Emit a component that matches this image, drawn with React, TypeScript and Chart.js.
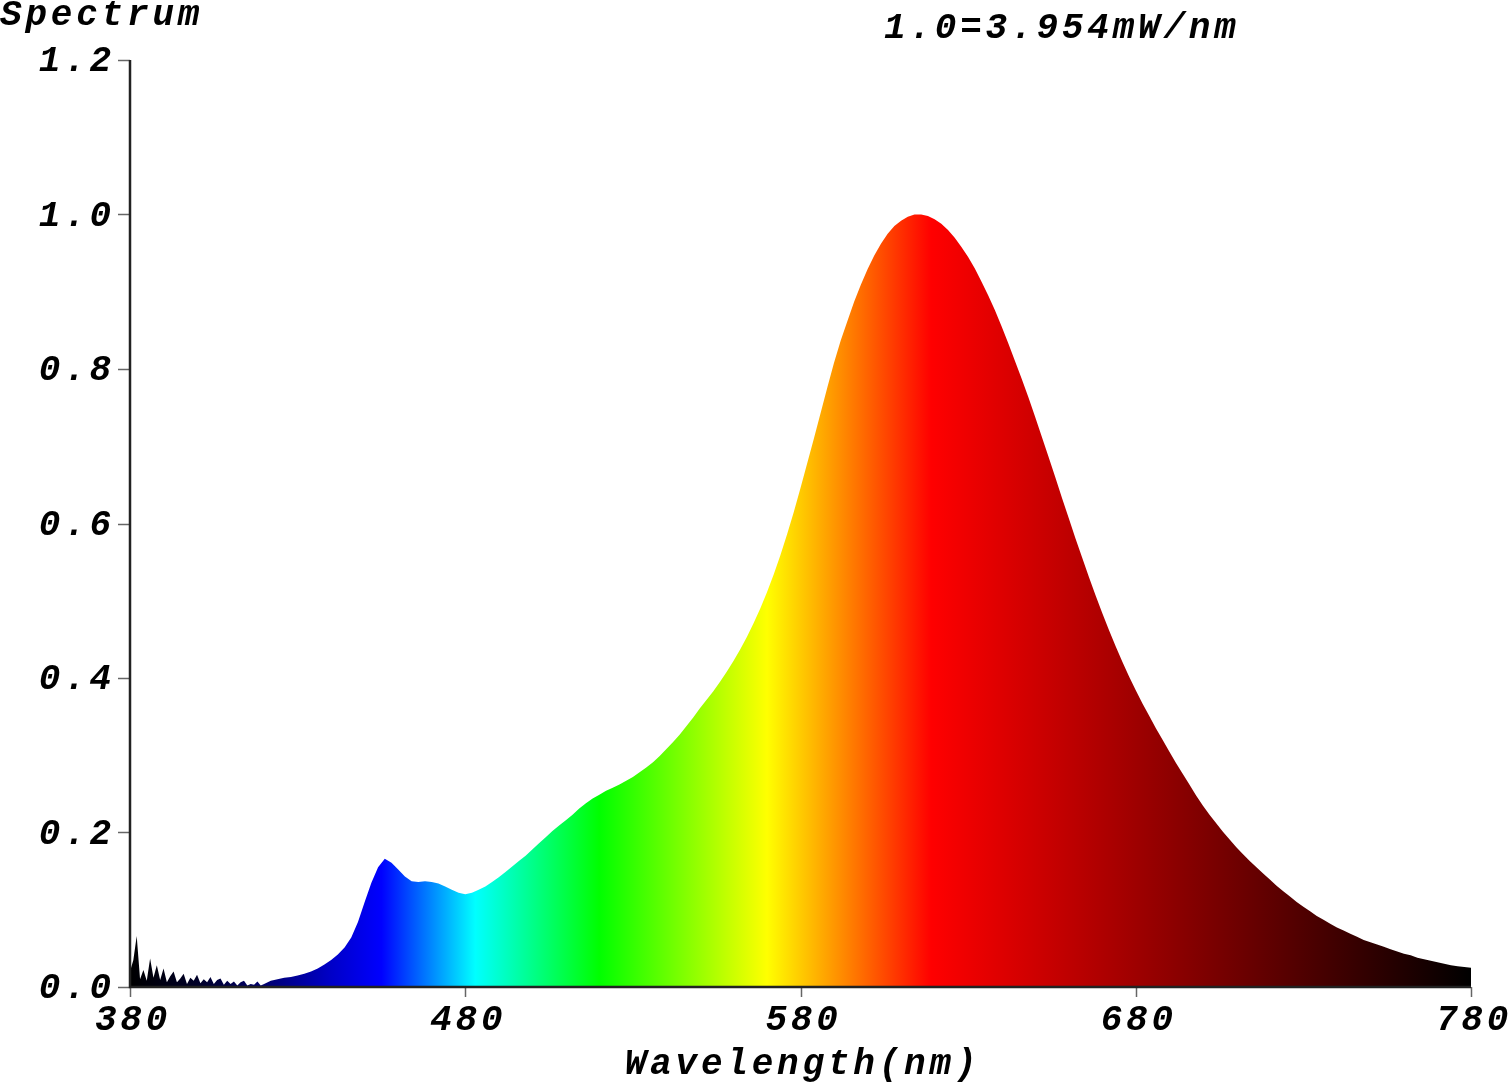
import React, { useEffect, useRef } from "react";
import { Chart, registerables } from "chart.js";

Chart.register(...registerables);

// Wavelength (nm)
const wavelengths = [
  380, 381, 382, 383, 384, 385, 386, 387, 388, 389, 390, 391, 392, 393, 394, 395, 396, 397, 398, 399,
  400, 401, 402, 403, 404, 405, 406, 407, 408, 409, 410, 411, 412, 413, 414, 415, 416, 417, 418, 419, 420,
  422, 424, 426, 428, 430, 432, 434, 436, 438, 440, 442, 444, 446, 448, 450, 452, 454, 456, 458, 460,
  462, 464, 466, 468, 470, 472, 474, 476, 478, 480, 482, 484, 486, 488, 490, 492, 494, 496, 498, 500,
  502, 504, 506, 508, 510, 512, 514, 516, 518, 520, 522, 524, 526, 528, 530, 532, 534, 536, 538, 540,
  542, 544, 546, 548, 550, 552, 554, 556, 558, 560, 562, 564, 566, 568, 570, 572, 574, 576, 578, 580,
  582, 584, 586, 588, 590, 592, 594, 596, 598, 600, 602, 604, 606, 608, 610, 612, 614, 616, 618, 620,
  622, 624, 626, 628, 630, 632, 634, 636, 638, 640, 642, 644, 646, 648, 650, 652, 654, 656, 658, 660,
  662, 664, 666, 668, 670, 672, 674, 676, 678, 680, 682, 684, 686, 688, 690, 692, 694, 696, 698, 700,
  702, 704, 706, 708, 710, 712, 714, 716, 718, 720, 722, 724, 726, 728, 730, 732, 734, 736, 738, 740,
  742, 744, 746, 748, 750, 752, 754, 756, 758, 760, 762, 764, 766, 768, 770, 772, 774, 776, 778, 780,
];

// Relative spectral power (1.0 = 3.954 mW/nm)
const intensities = [
  0.020, 0.035, 0.066, 0.010, 0.022, 0.008, 0.037, 0.012, 0.028, 0.009, 0.024, 0.006, 0.014, 0.020, 0.006, 0.011, 0.017, 0.004, 0.012, 0.008,
  0.016, 0.005, 0.010, 0.006, 0.013, 0.004, 0.009, 0.011, 0.003, 0.008, 0.004, 0.007, 0.002, 0.006, 0.008, 0.002, 0.004, 0.003, 0.007, 0.002, 0.004,
  0.008, 0.010, 0.012, 0.013, 0.015, 0.017, 0.020, 0.024, 0.029, 0.035, 0.042, 0.051, 0.064, 0.084, 0.110, 0.135, 0.155, 0.166, 0.161, 0.152,
  0.143, 0.137, 0.136, 0.137, 0.136, 0.134, 0.130, 0.126, 0.122, 0.120, 0.122, 0.126, 0.130, 0.136, 0.142, 0.149, 0.156, 0.163, 0.170, 0.178,
  0.186, 0.194, 0.202, 0.209, 0.216, 0.223, 0.231, 0.238, 0.244, 0.249, 0.254, 0.258, 0.262, 0.267, 0.272, 0.278, 0.284, 0.291, 0.299, 0.308,
  0.317, 0.327, 0.338, 0.349, 0.361, 0.372, 0.383, 0.395, 0.408, 0.422, 0.437, 0.453, 0.471, 0.490, 0.511, 0.534, 0.559, 0.586, 0.615, 0.646,
  0.678, 0.710, 0.743, 0.776, 0.808, 0.837, 0.862, 0.887, 0.909, 0.929, 0.947, 0.962, 0.975, 0.985, 0.992, 0.997, 1.000, 1.000, 0.998, 0.994,
  0.988, 0.980, 0.970, 0.958, 0.945, 0.930, 0.913, 0.895, 0.876, 0.855, 0.833, 0.810, 0.787, 0.763, 0.738, 0.712, 0.686, 0.660, 0.633, 0.607,
  0.581, 0.556, 0.531, 0.507, 0.484, 0.462, 0.441, 0.421, 0.402, 0.384, 0.367, 0.351, 0.335, 0.320, 0.305, 0.290, 0.276, 0.262, 0.248, 0.235,
  0.223, 0.212, 0.201, 0.191, 0.181, 0.172, 0.163, 0.155, 0.147, 0.139, 0.131, 0.124, 0.117, 0.110, 0.104, 0.098, 0.092, 0.087, 0.082, 0.077,
  0.073, 0.069, 0.065, 0.061, 0.058, 0.055, 0.052, 0.049, 0.046, 0.043, 0.041, 0.038, 0.036, 0.034, 0.032, 0.030, 0.028, 0.027, 0.026, 0.025,
];

const xTicks = [380, 480, 580, 680, 780];
const xTickLabels = ["380", "480", "580", "680", "780"];
const yTicks = [0, 0.2, 0.4, 0.6, 0.8, 1.0, 1.2];
const yTickLabels = ["0.0", "0.2", "0.4", "0.6", "0.8", "1.0", "1.2"];

const titleLeft = "Spectrum";
const titleRight = "1.0=3.954mW/nm";
const xTitle = "Wavelength(nm)";

// Wavelength -> colour stops of the fill
const colorWavelengths = [380, 400, 420, 440, 455, 483, 520, 570, 619, 780];
const colorValues = [
  "rgb(0,0,0)",
  "rgb(0,0,40)",
  "rgb(0,0,110)",
  "rgb(0,0,200)",
  "rgb(0,0,255)",
  "rgb(0,255,255)",
  "rgb(0,255,0)",
  "rgb(255,255,0)",
  "rgb(255,0,0)",
  "rgb(0,0,0)",
];

const FONT = "bold italic 36px 'Liberation Mono', 'Courier New', monospace";
const SPACING = "3.8px";

export default function App() {
  const ref = useRef<HTMLCanvasElement>(null);

  useEffect(() => {
    document.body.style.margin = "0";
    const canvas = ref.current;
    if (!canvas) return;

    const decorPlugin = {
      id: "spectrumDecor",
      afterDraw(chart: any) {
        const { ctx, chartArea: ca, scales } = chart;
        const xs = scales.x;
        const ys = scales.y;
        ctx.save();

        // ticks
        ctx.strokeStyle = "#666";
        ctx.lineWidth = 1.5;
        yTicks.forEach((v) => {
          const y = Math.round(ys.getPixelForValue(v)) + 0.5;
          ctx.beginPath();
          ctx.moveTo(ca.left - 12, y);
          ctx.lineTo(ca.left, y);
          ctx.stroke();
        });
        xTicks.forEach((v) => {
          const x = Math.round(xs.getPixelForValue(v)) + 0.5;
          ctx.beginPath();
          ctx.moveTo(x, ca.bottom);
          ctx.lineTo(x, ca.bottom + 10);
          ctx.stroke();
        });

        // axis lines
        ctx.strokeStyle = "#222";
        ctx.lineWidth = 2.5;
        ctx.beginPath();
        ctx.moveTo(ca.left, ca.top);
        ctx.lineTo(ca.left, ca.bottom);
        ctx.lineTo(ca.right, ca.bottom);
        ctx.stroke();

        // text
        ctx.fillStyle = "#000";
        ctx.font = FONT;
        (ctx as any).letterSpacing = SPACING;
        ctx.textBaseline = "alphabetic";

        ctx.textAlign = "right";
        yTicks.forEach((v, i) => {
          const y = ys.getPixelForValue(v);
          ctx.fillText(yTickLabels[i], ca.left - 15, y + 11);
        });

        ctx.textAlign = "center";
        xTicks.forEach((v, i) => {
          const x = xs.getPixelForValue(v);
          ctx.fillText(xTickLabels[i], x + 3, ca.bottom + 43);
        });

        ctx.fillText(xTitle, (ca.left + ca.right) / 2 + 2, ca.bottom + 87);

        ctx.textAlign = "left";
        ctx.fillText(titleLeft, 0, 25);
        ctx.fillText(titleRight, 884, 38);

        ctx.restore();
      },
    };

    const chart = new Chart(canvas, {
      type: "line",
      data: {
        datasets: [
          {
            data: wavelengths.map((w, i) => ({ x: w, y: intensities[i] })),
            fill: "origin",
            borderWidth: 0,
            pointRadius: 0,
            tension: 0,
            backgroundColor: (c: any) => {
              const ca = c.chart.chartArea;
              if (!ca) return "rgba(0,0,0,0)";
              const g = c.chart.ctx.createLinearGradient(ca.left, 0, ca.right, 0);
              colorWavelengths.forEach((w, i) => {
                g.addColorStop((w - 380) / 400, colorValues[i]);
              });
              return g;
            },
          },
        ],
      },
      options: {
        responsive: false,
        animation: false,
        devicePixelRatio: 1,
        layout: { padding: { left: 130, right: 37, top: 60, bottom: 97 } },
        plugins: {
          legend: { display: false },
          tooltip: { enabled: false },
        },
        scales: {
          x: { type: "linear", min: 380, max: 780, display: false },
          y: { type: "linear", min: 0, max: 1.2, display: false },
        },
      },
      plugins: [decorPlugin],
    });

    return () => chart.destroy();
  }, []);

  return <canvas ref={ref} width={1508} height={1084} style={{ display: "block" }} />;
}
